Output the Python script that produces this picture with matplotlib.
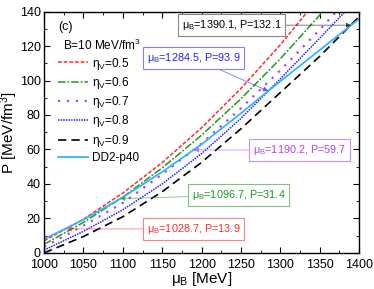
import matplotlib
matplotlib.use("Agg")
import matplotlib.pyplot as plt
from matplotlib.ticker import MultipleLocator

plt.rcParams['font.family'] = ['Liberation Sans', 'DejaVu Sans']
plt.rcParams['mathtext.fontset'] = 'custom'
plt.rcParams['mathtext.rm'] = 'Liberation Sans'
plt.rcParams['mathtext.it'] = 'Liberation Sans'

# baryon chemical potential grid [MeV]
mu_b = [1000, 1050, 1100, 1150, 1200, 1250, 1300, 1350, 1400]

# pressure [MeV/fm^3]
p_eta05 = [7.0, 19.6, 34.7, 52.4, 72.6, 95.4, 120.7, 148.6, 179.0]
p_eta06 = [5.0, 17.7, 32.4, 49.3, 68.3, 89.4, 112.6, 137.9, 165.3]
p_eta07 = [3.5, 15.8, 29.0, 45.6, 63.4, 83.9, 105.9, 129.4, 154.4]
p_eta08 = [1.6, 12.5, 25.0, 40.0, 57.6, 78.0, 101.0, 124.5, 148.5]
p_eta09 = [0.0, 9.5, 21.0, 35.5, 52.5, 72.0, 93.0, 114.0, 137.0]
p_dd2 = [8.0, 19.2, 32.3, 47.0, 63.0, 81.0, 99.6, 117.6, 135.7]

series = [
    (p_eta05, r'$\eta_V$=0.5', '#ff2a2a', (0, (2.5, 1.2)), 1.1),
    (p_eta06, r'$\eta_V$=0.6', '#1f9a1f', (0, (5, 1.2, 1.2, 1.2)), 1.1),
    (p_eta07, r'$\eta_V$=0.7', '#b040ff', (0, (1, 3)), 1.6),
    (p_eta08, r'$\eta_V$=0.8', '#2222ff', (0, (1, 0.7)), 1.1),
    (p_eta09, r'$\eta_V$=0.9', 'black', (0, (5, 3)), 1.2),
    (p_dd2, 'DD2-p40', '#33b5ff', '-', 1.3),
]

# crossing points (mu_B, P), text colour, box edge colour, box centre
crossings = [
    (1028.7, 13.9, '#ff2a2a', '#ff8080', 1190, 13.9),
    (1096.7, 31.4, '#1f9a1f', '#80c080', 1247, 33.6),
    (1190.2, 59.7, '#b040ff', '#c890ff', 1324, 59.7),
    (1284.5, 93.9, '#2222ff', '#8080ff', 1190, 113.0),
    (1390.1, 132.1, 'black', '#888888', 1238, 132.1),
]

fig = plt.figure(figsize=(3.74, 2.89), dpi=100)
ax = fig.add_axes([0.118, 0.125, 0.842, 0.835])

for p, lab, col, ls, lw in series:
    ax.plot(mu_b, p, color=col, linestyle=ls, linewidth=lw, label=lab)

for mu, pr, col, ecol, bx, by in crossings:
    txt = r'$\mu_B$=%.1f, P=%.1f' % (mu, pr)
    ax.annotate(txt, xy=(mu, pr), xytext=(bx, by), color=col, fontsize=7.8,
                ha='center', va='center',
                bbox=dict(boxstyle='square,pad=0.35', fc='white', ec=ecol, lw=0.8),
                arrowprops=dict(arrowstyle='-|>', color=col, lw=0.6, alpha=0.6,
                                mutation_scale=7, shrinkA=0, shrinkB=0))

ax.set_xlim(1000, 1400)
ax.set_ylim(0, 140)
ax.xaxis.set_major_locator(MultipleLocator(50))
ax.xaxis.set_minor_locator(MultipleLocator(25))
ax.yaxis.set_major_locator(MultipleLocator(20))
ax.yaxis.set_minor_locator(MultipleLocator(10))
ax.tick_params(which='both', direction='in', top=True, right=True, labelsize=9)
ax.tick_params(which='major', length=4, pad=2.5)
ax.tick_params(axis='x', which='major', pad=4.5)
ax.tick_params(which='minor', length=2)
for s in ax.spines.values():
    s.set_linewidth(1.0)

ax.set_xlabel(r'$\mu_B$ [MeV]', fontsize=11, labelpad=-1)
ax.set_ylabel(r'P [MeV/fm$^3$]', fontsize=11)
ax.yaxis.set_label_coords(-0.076, 0.5)

ax.text(0.045, 0.935, '(c)', transform=ax.transAxes, fontsize=9, va='center')
ax.text(0.06, 0.86, r'B=10 MeV/fm$^3$', transform=ax.transAxes, fontsize=8.5,
        va='center')

ax.legend(loc='upper left', bbox_to_anchor=(0.02, 0.847), frameon=False,
          fontsize=8.5, handlelength=2.6, handletextpad=0.3, labelspacing=0.28,
          borderaxespad=0.2)

fig.savefig('out.png', dpi=100)
